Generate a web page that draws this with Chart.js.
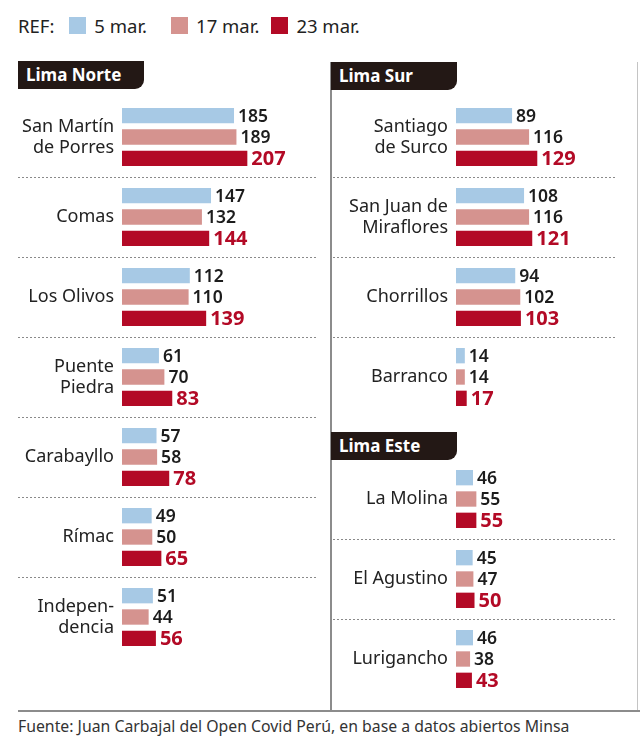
<!DOCTYPE html>
<html>
<head>
<meta charset="utf-8">
<script src="https://cdn.jsdelivr.net/npm/chart.js@4.4.0/dist/chart.umd.min.js"></script>
<style>
body { margin: 0; width: 640px; height: 740px; background: #fff; font-family: "Noto Sans", sans-serif; color: #222; position: relative; overflow: hidden; }
.box { position: absolute; }
.tab { position: absolute; background: #231815; color: #fff; font-weight: 700; font-size: 17px; height: 28px; line-height: 28px; padding-left: 8px; box-sizing: border-box; width: 126px; border-bottom-right-radius: 9px; }
#legend { position: absolute; left: 18px; top: 13px; font-size: 18.5px; display: flex; align-items: center; color: #222; }
#legend .sw { display: inline-block; width: 17px; height: 17px; margin: 0 8px 0 0; }
#legend .it { display: flex; align-items: center; margin-right: 24px; }
#legend .it:nth-of-type(3) { margin-right: 12px; }
#source { position: absolute; left: 18px; top: 715px; font-size: 15.8px; color: #333; }
</style>
</head>
<body>
<div id="legend"><span style="margin-right:15px">REF:</span></div>

<div class="box" style="left:330px;top:62px;width:2px;height:650px;background:#8c8c8c"></div>
<div class="box" style="left:637px;top:62px;width:1px;height:650px;background:#c4c4c4"></div>
<div class="box" style="left:18px;top:710px;width:622px;height:2px;background:#8c8c8c"></div>

<div class="tab" style="left:18px;top:61px">Lima Norte</div>
<div class="tab" style="left:331px;top:62px">Lima Sur</div>
<div class="tab" style="left:331px;top:432px">Lima Este</div>

<div class="box" style="left:0;top:97px;width:320px;height:560px"><canvas id="norteChart"></canvas></div>
<div class="box" style="left:331px;top:97px;width:309px;height:320px"><canvas id="surChart"></canvas></div>
<div class="box" style="left:331px;top:459px;width:309px;height:240px"><canvas id="esteChart"></canvas></div>

<div id="source">Fuente: Juan Carbajal del Open Covid Perú, en base a datos abiertos Minsa</div>

<script>
// Series
const seriesNames = ['5 mar.', '17 mar.', '23 mar.'];
const seriesColors = ['#a7c9e5', '#d5938f', '#b30a26'];

// Lima Norte
const norteDistricts = [['San Martín', 'de Porres'], 'Comas', 'Los Olivos', ['Puente', 'Piedra'], 'Carabayllo', 'Rímac', ['Indepen-', 'dencia']];
const norte5 = [185, 147, 112, 61, 57, 49, 51];
const norte17 = [189, 132, 110, 70, 58, 50, 44];
const norte23 = [207, 144, 139, 83, 78, 65, 56];

// Lima Sur
const surDistricts = [['Santiago', 'de Surco'], ['San Juan de', 'Miraflores'], 'Chorrillos', 'Barranco'];
const sur5 = [89, 108, 94, 14];
const sur17 = [116, 116, 102, 14];
const sur23 = [129, 121, 103, 17];

// Lima Este
const esteDistricts = ['La Molina', 'El Agustino', 'Lurigancho'];
const este5 = [46, 45, 46];
const este17 = [55, 47, 38];
const este23 = [55, 50, 43];

// Legend
const legend = document.getElementById('legend');
seriesNames.forEach((name, i) => {
    const it = document.createElement('span');
    it.className = 'it';
    it.innerHTML = '<span class="sw" style="background:' + seriesColors[i] + '"></span>' + name;
    legend.appendChild(it);
});

// Dotted dividers between districts + value labels at bar ends
const panelDecor = {
    id: 'panelDecor',
    afterDatasetsDraw(chart, args, opts) {
        const ctx = chart.ctx;
        const y = chart.scales.y;
        const n = chart.data.labels.length;
        ctx.save();
        ctx.strokeStyle = '#8a8a8a';
        ctx.lineWidth = 1;
        ctx.setLineDash([2, 2]);
        for (let i = 0; i < n - 1; i++) {
            const py = Math.round((y.getPixelForValue(i) + y.getPixelForValue(i + 1)) / 2) + 0.5;
            ctx.beginPath();
            ctx.moveTo(opts.x0, py);
            ctx.lineTo(opts.x1, py);
            ctx.stroke();
        }
        ctx.setLineDash([]);
        ctx.textBaseline = 'middle';
        ctx.textAlign = 'left';
        chart.data.datasets.forEach((ds, di) => {
            const meta = chart.getDatasetMeta(di);
            meta.data.forEach((bar, i) => {
                if (di === 2) {
                    ctx.font = 'bold 20px "Noto Sans"';
                    ctx.fillStyle = '#b30a26';
                } else {
                    ctx.font = '600 17.5px "Noto Sans"';
                    ctx.fillStyle = '#1c1c1c';
                }
                ctx.fillText(ds.data[i], bar.x + 4, bar.y + 1);
            });
        });
        ctx.restore();
    }
};

function makePanel(id, labels, sets, xMax, axisWidth, x0, x1) {
    const ctx = document.getElementById(id);
    if (!ctx) return;
    new Chart(ctx, {
        type: 'bar',
        data: {
            labels: labels,
            datasets: sets.map((d, i) => ({
                label: seriesNames[i],
                data: d,
                backgroundColor: seriesColors[i],
                borderWidth: 0,
                categoryPercentage: 0.8,
                barPercentage: 0.72
            }))
        },
        options: {
            indexAxis: 'y',
            responsive: true,
            maintainAspectRatio: false,
            animation: false,
            layout: { padding: 0 },
            plugins: {
                legend: { display: false },
                tooltip: { enabled: false },
                panelDecor: { x0: x0, x1: x1 }
            },
            scales: {
                x: { display: false, min: 0, max: xMax },
                y: {
                    grid: { display: false },
                    border: { display: false },
                    ticks: {
                        color: '#222',
                        padding: 0,
                        font: { family: 'Noto Sans', size: 18, lineHeight: 1.17 }
                    },
                    afterFit(scale) {
                        scale.width = axisWidth;
                        scale.paddingTop = 0;
                        scale.paddingBottom = 0;
                    }
                }
            }
        },
        plugins: [panelDecor]
    });
}

makePanel('norteChart', norteDistricts, [norte5, norte17, norte23], 327, 122, 18, 318);
makePanel('surChart', surDistricts, [sur5, sur17, sur23], 292, 125, 2, 284);
makePanel('esteChart', esteDistricts, [este5, este17, este23], 497, 125, 2, 284);
</script>
</body>
</html>
